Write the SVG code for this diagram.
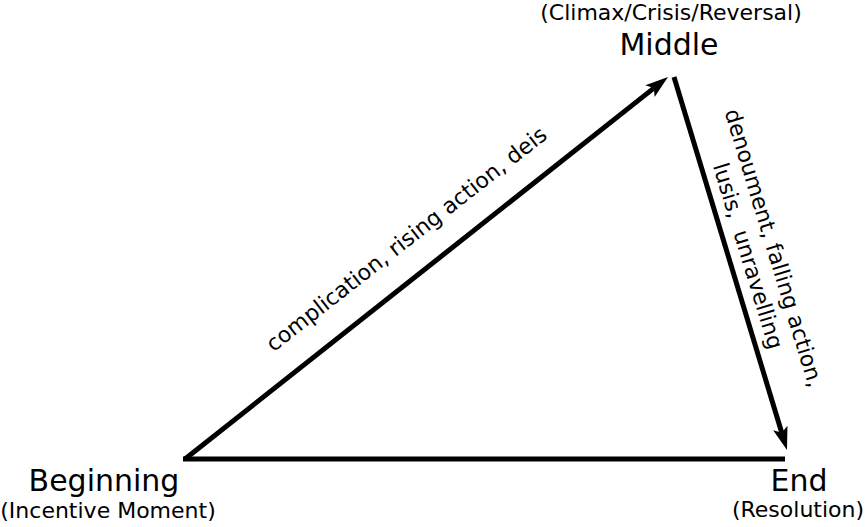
<svg xmlns="http://www.w3.org/2000/svg" width="867" height="527" viewBox="0 0 867 527">
<style>
text{font-family:"DejaVu Sans","Liberation Sans",sans-serif;fill:#000}
.big{font-size:30px}
.sm{font-size:22px}
.edge{stroke:#000;stroke-width:5;fill:none}
</style>
<defs>
<marker id="ah" markerUnits="userSpaceOnUse" viewBox="-12 -9 26 18" refX="0" refY="0" markerWidth="26" markerHeight="18" orient="auto" overflow="visible">
<path d="M12,0 L-11,-7.5 L-6,0 L-11,7.5 Z" fill="#000"/>
</marker>
</defs>
<g id="connectors">
<line class="edge" x1="185" y1="459" x2="658.6" y2="84.4" marker-end="url(#ah)"/>
<line class="edge" x1="674" y1="77" x2="783.5" y2="438.5" marker-end="url(#ah)"/>
<line class="edge" x1="183" y1="459" x2="785" y2="459"/>
<g transform="translate(411,245) rotate(-38)"><text class="sm" x="0" y="0" text-anchor="middle">complication, rising action, deis</text></g>
<g transform="translate(761,252) rotate(73)">
<text class="sm" x="0" y="-6" text-anchor="middle">denoument, falling action,</text>
<text class="sm" x="0" y="21" text-anchor="middle" style="white-space:pre">lusis,  unravelling</text>
</g>
</g>
<g id="middle">
<text class="sm" x="671" y="20" text-anchor="middle">(Climax/Crisis/Reversal)</text>
<text class="big" x="669" y="55" text-anchor="middle">Middle</text>
</g>
<g id="beginning">
<text class="big" x="104" y="491" text-anchor="middle">Beginning</text>
<text class="sm" x="108" y="518" text-anchor="middle">(Incentive Moment)</text>
</g>
<g id="end">
<text class="big" x="799" y="491" text-anchor="middle">End</text>
<text class="sm" x="798" y="517" text-anchor="middle">(Resolution)</text>
</g>
</svg>
